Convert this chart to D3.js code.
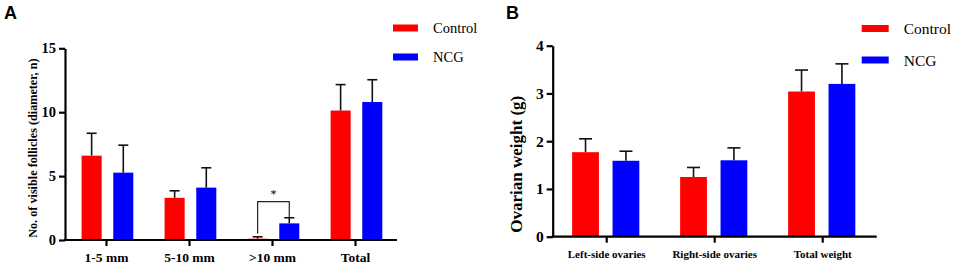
<!DOCTYPE html>
<html>
<head>
<meta charset="utf-8">
<script src="https://cdn.jsdelivr.net/npm/d3@7"></script>
<style>
  body { margin: 0; background: #fff; }
  svg text { font-family: "Liberation Serif", "Times New Roman", serif; }
</style>
</head>
<body>
<div id="chart"></div>
<script>
//////two bar panels: follicle counts (A) and ovarian weight (B)
//////control vs NCG, mean + upward SD bars

var groups = ["Control", "NCG"];
var groupColors = ["#ff0000", "#0000ff"];

////panel A data
var catsA = ["1-5 mm", "5-10 mm", ">10 mm", "Total"];
var controlA = [6.6, 3.3, 0.1, 10.13];
var controlErrA = [1.75, 0.55, 0.15, 2.03];
var ncgA = [5.27, 4.1, 1.3, 10.8];
var ncgErrA = [2.15, 1.55, 0.44, 1.74];
var ticksA = [0, 5, 10, 15];

////panel B data
var catsB = ["Left-side ovaries", "Right-side ovaries", "Total weight"];
var controlB = [1.77, 1.25, 3.04];
var controlErrB = [0.28, 0.2, 0.45];
var ncgB = [1.59, 1.6, 3.2];
var ncgErrB = [0.2, 0.26, 0.42];
var ticksB = [0, 1, 2, 3, 4];

var svg = d3.select("#chart").append("svg")
    .attr("width", 957)
    .attr("height", 268);

const drawPanel = (opt) => {
  var g = svg.append("g");

  var x0 = d3.scaleBand().domain(opt.cats).range([opt.left, opt.right]).padding(0);
  var x1 = d3.scaleBand().domain(groups)
      .range([x0.bandwidth() * opt.inStart, x0.bandwidth() * opt.inEnd])
      .paddingInner(opt.inPad);
  var y = d3.scaleLinear().domain([0, d3.max(opt.ticks)]).range([opt.bottom, opt.top]);

  ////rows: one per category, with both groups
  var rows = opt.cats.map((c, i) => ({
    cat: c,
    vals: [
      {grp: "Control", v: opt.control[i], e: opt.controlErr[i]},
      {grp: "NCG", v: opt.ncg[i], e: opt.ncgErr[i]}
    ]
  }));

  var cg = g.selectAll("g.cat").data(rows).enter()
    .append("g").attr("class", "cat")
    .attr("transform", d => "translate(" + x0(d.cat) + ",0)");

  ////error bars first so the bar covers the stem start
  var eb = cg.selectAll("g.err").data(d => d.vals).enter().append("g").attr("class", "err");
  eb.append("line")
    .attr("x1", d => x1(d.grp) + x1.bandwidth() / 2)
    .attr("x2", d => x1(d.grp) + x1.bandwidth() / 2)
    .attr("y1", d => y(d.v))
    .attr("y2", d => y(d.v + d.e))
    .style("stroke", "#111").style("stroke-width", 1.6);
  eb.append("line")
    .attr("x1", d => x1(d.grp) + x1.bandwidth() / 2 - opt.cap / 2)
    .attr("x2", d => x1(d.grp) + x1.bandwidth() / 2 + opt.cap / 2)
    .attr("y1", d => y(d.v + d.e))
    .attr("y2", d => y(d.v + d.e))
    .style("stroke", "#111").style("stroke-width", 1.6);

  cg.selectAll("rect").data(d => d.vals).enter().append("rect")
    .attr("x", d => x1(d.grp))
    .attr("width", x1.bandwidth())
    .attr("y", d => y(d.v))
    .attr("height", d => y(0) - y(d.v))
    .style("fill", d => groupColors[groups.indexOf(d.grp)]);

  ////axes
  var xAxis = g.append("g")
    .attr("transform", "translate(0," + opt.bottom + ")")
    .call(d3.axisBottom(x0).tickSize(6).tickSizeOuter(0).tickPadding(4));
  xAxis.select(".domain").attr("d", "M" + (opt.left - 1) + ",0H" + opt.right)
    .style("stroke", "#000").style("stroke-width", 2.2);
  xAxis.selectAll(".tick line").style("stroke", "#000").style("stroke-width", 2.2);
  xAxis.selectAll(".tick text")
    .style("font-size", opt.xFont + "px").style("font-weight", "bold").style("fill", "#000")
    .attr("dy", opt.xDy);

  var yAxis = g.append("g")
    .attr("transform", "translate(" + opt.left + ",0)")
    .call(d3.axisLeft(y).tickValues(opt.ticks).tickFormat(d3.format("d"))
      .tickSize(6).tickSizeOuter(0).tickPadding(3));
  yAxis.select(".domain").style("stroke", "#000").style("stroke-width", 2.2);
  yAxis.selectAll(".tick line").style("stroke", "#000").style("stroke-width", 2.2);
  yAxis.selectAll(".tick text")
    .style("font-size", opt.yFont + "px").style("font-weight", "bold").style("fill", "#000");

  ////y title
  g.append("text")
    .attr("transform", "translate(" + opt.titleX + "," + ((opt.top + opt.bottom) / 2 + opt.titleShift) + ") rotate(-90)")
    .attr("text-anchor", "middle")
    .attr("dominant-baseline", "central")
    .style("font-size", opt.titleFont + "px")
    .style("font-weight", "bold")
    .text(opt.title);

  ////panel letter
  g.append("text")
    .attr("x", opt.letterX).attr("y", 19)
    .style("font-family", "'Liberation Sans', Arial, sans-serif")
    .style("font-size", "18px").style("font-weight", "bold")
    .text(opt.letter);

  ////legend
  var lg = g.selectAll("g.leg").data(groups).enter().append("g").attr("class", "leg")
    .attr("transform", (d, i) => "translate(" + opt.legX + "," + (opt.legY + i * opt.legGap) + ")");
  lg.append("rect")
    .attr("x", 0).attr("y", -3.5)
    .attr("width", opt.legW).attr("height", 7)
    .style("fill", (d, i) => groupColors[i]);
  lg.append("text")
    .attr("x", opt.legW + opt.legTx).attr("y", 0)
    .attr("dominant-baseline", "central")
    .style("font-family", "'Liberation Serif', 'Times New Roman', serif")
    .style("font-size", opt.legFont + "px")
    .text(d => d);

  return {x0: x0, x1: x1, y: y, g: g};
};

var pA = drawPanel({
  cats: catsA, control: controlA, controlErr: controlErrA, ncg: ncgA, ncgErr: ncgErrA, ticks: ticksA,
  left: 65, right: 397, top: 48.3, bottom: 240,
  inStart: 0.2, inEnd: 0.823, inPad: 0.367, cap: 10,
  xFont: 13.5, xDy: "0.9em", yFont: 14.5,
  title: "No. of visible follicles (diameter, n)", titleX: 33, titleFont: 12.2, titleShift: 4,
  letter: "A", letterX: 4,
  legX: 393, legY: 28, legGap: 29, legW: 25, legTx: 15, legFont: 14.5
});

var pB = drawPanel({
  cats: catsB, control: controlB, controlErr: controlErrB, ncg: ncgB, ncgErr: ncgErrB, ticks: ticksB,
  left: 552.7, right: 876.7, top: 45.7, bottom: 236.7,
  inStart: 0.18, inEnd: 0.802, inPad: 0.337, cap: 13,
  xFont: 11, xDy: "1.05em", yFont: 15.5,
  title: "Ovarian weight (g)", titleX: 516, titleFont: 17, titleShift: 23,
  letter: "B", letterX: 506,
  legX: 861.7, legY: 28.5, legGap: 31.5, legW: 27, legTx: 15, legFont: 15.5
});

////significance bracket on >10 mm in panel A
var bx = pA.x0(">10 mm");
var cX = bx + pA.x1("Control") + pA.x1.bandwidth() / 2;
var nX = bx + pA.x1("NCG") + pA.x1.bandwidth() / 2;
var topY = pA.y(3.0);
pA.g.append("path")
  .attr("d", "M" + cX + "," + pA.y(0.5) + "V" + topY + "H" + nX + "V" + pA.y(ncgA[2] + ncgErrA[2]))
  .style("fill", "none").style("stroke", "#222").style("stroke-width", 1.2);
pA.g.append("text")
  .attr("x", (cX + nX) / 2).attr("y", topY - 4)
  .attr("text-anchor", "middle")
  .style("font-size", "12px")
  .text("*");
</script>
</body>
</html>
